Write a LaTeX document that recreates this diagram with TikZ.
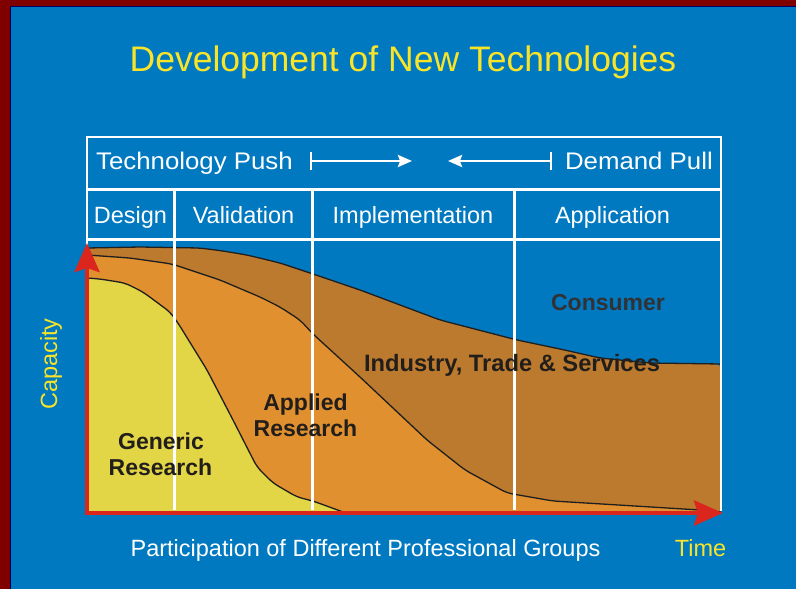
\documentclass[tikz,border=0pt]{standalone}
\usepackage{fontspec}
\setmainfont{Liberation Sans}
\usetikzlibrary{arrows.meta}
\definecolor{bgblue}{RGB}{0,121,193}
\definecolor{framered}{RGB}{128,0,0}
\definecolor{ttlyellow}{RGB}{250,228,40}
\definecolor{genyellow}{RGB}{226,213,70}
\definecolor{apporange}{RGB}{224,144,47}
\definecolor{indbrown}{RGB}{188,122,46}
\definecolor{axisred}{RGB}{218,38,28}
\definecolor{labeldark}{RGB}{34,30,28}
\definecolor{consdark}{RGB}{50,50,52}
\begin{document}
\begin{tikzpicture}[x=1pt,y=-1pt,
  txt/.style={inner sep=0pt, anchor=base, font=\fontsize{23.5}{27}\selectfont},
  head/.style={txt, text=white},
  wide/.style={txt, text=white, font=\fontsize{24}{27}\selectfont, xscale=1.075},
  area/.style={txt, font=\fontsize{23}{26}\selectfont\bfseries, text=labeldark},
  gridline/.style={white, line width=2.7pt},
  curve/.style={draw=black!88, line width=1.3pt, line join=round},
  axis/.style={axisred, line width=4.6pt, line join=miter,
    {Stealth[length=29pt,width=25pt,inset=4pt]}-{Stealth[length=29pt,width=25pt,inset=4pt]}},
  hdarrow/.style={white, line width=2.4pt,
    {Bar[width=18pt]}-{Stealth[length=14pt,width=12pt,inset=2pt]}}
]
\useasboundingbox (0,0) rectangle (796,589);
% background and frame
\fill[framered] (0,0) rectangle (796,589);
\fill[bgblue] (10,6) rectangle (796,589);
\draw[black!60!blue, line width=1pt] (10.5,589) -- (10.5,6.5) -- (796,6.5);

% areas
\fill[indbrown, rounded corners=6pt] (87,248) -- (140,247) -- (200,248) -- (223,251) -- (247,255) -- (280,263) -- (313,274) -- (360,290) -- (440,320) -- (517,340) -- (560,349) -- (600,358) -- (650,363) -- (721,364) -- (721,513) -- (87,513) -- cycle;
\fill[apporange, rounded corners=6pt] (87,255) -- (130,258) -- (172,264) -- (220,280) -- (260,297) -- (280,307) -- (300,320) -- (313,334) -- (360,377) -- (427,440) -- (465,470) -- (507,493) -- (553,501) -- (700,510) -- (721,512) -- (87,513) -- cycle;
\fill[genyellow, rounded corners=6pt] (87,278) -- (100,279) -- (125,283) -- (143,292) -- (170,312) -- (178,323) -- (207,370) -- (233,420) -- (257,467) -- (273,483) -- (297,497) -- (313,501) -- (343,512) -- (87,513) -- cycle;

% boundary curves
\draw[curve, rounded corners=6pt] (87,248) -- (140,247) -- (200,248) -- (223,251) -- (247,255) -- (280,263) -- (313,274) -- (360,290) -- (440,320) -- (517,340) -- (560,349) -- (600,358) -- (650,363) -- (721,364);
\draw[curve, rounded corners=6pt] (87,255) -- (130,258) -- (172,264) -- (220,280) -- (260,297) -- (280,307) -- (300,320) -- (313,334) -- (360,377) -- (427,440) -- (465,470) -- (507,493) -- (553,501) -- (700,510) -- (721,512);
\draw[curve, rounded corners=6pt] (87,278) -- (100,279) -- (125,283) -- (143,292) -- (170,312) -- (178,323) -- (207,370) -- (233,420) -- (257,467) -- (273,483) -- (297,497) -- (313,501) -- (343,512);

% table / grid lines
\coordinate (tl) at (87,137);
\coordinate (tr) at (721,137);
\coordinate (r1l) at (87,189.7);
\coordinate (r1r) at (721,189.7);
\coordinate (r2l) at (87,239.7);
\coordinate (r2r) at (721,239.7);
\coordinate (lb) at (87,245);
\coordinate (rb) at (721,511);
\draw[gridline] (lb) -- (tl) -- (tr) -- (rb);
\draw[gridline] (r1l) -- (r1r);
\draw[gridline] (r2l) -- (r2r);
\coordinate (v1t) at (174.7,189.7); \coordinate (v1b) at (174.7,510);
\coordinate (v2t) at (312.7,189.7); \coordinate (v2b) at (312.7,510);
\coordinate (v3t) at (514.3,189.7); \coordinate (v3b) at (514.3,510);
\draw[gridline] (v1t) -- (v1b);
\draw[gridline] (v2t) -- (v2b);
\draw[gridline] (v3t) -- (v3b);

% axes
\coordinate (ytip) at (87,243);
\coordinate (origin) at (87,513);
\coordinate (xtip) at (723,513);
\draw[axis] (ytip) -- (origin) -- (xtip);

% header arrows
\coordinate (pushS) at (310,161);
\coordinate (pushE) at (412,161);
\coordinate (pullS) at (552,161);
\coordinate (pullE) at (448,161);
\draw[hdarrow] (pushS) -- (pushE);
\draw[hdarrow] (pullS) -- (pullE);

% texts
\node[txt, text=ttlyellow, font=\fontsize{35.5}{40}\selectfont] (title) at (403,71) {Development of New Technologies};
\node[wide, anchor=base west] (push) at (96,169) {Technology Push};
\node[wide, anchor=base east] (pull) at (713,169) {Demand Pull};
\node[head] (design) at (130.5,223) {Design};
\node[head] (valid) at (243.5,223) {Validation};
\node[head] (impl) at (413,223) {Implementation};
\node[head] (appl) at (612.5,223) {Application};
\node[area, text=consdark] (consumer) at (608,310) {Consumer};
\node[area, font=\fontsize{23.7}{26}\selectfont\bfseries] (industry) at (512,371.5) {Industry, Trade \& Services};
\node[area] (applied1) at (305.5,410) {Applied};
\node[area] (applied2) at (305.5,436) {Research};
\node[area] (generic1) at (161,449) {Generic};
\node[area] (generic2) at (160.5,475) {Research};
\node[txt, text=ttlyellow, rotate=90] (capacity) at (57,364) {Capacity};
\node[txt, text=white] (particip) at (365.5,556.5) {Participation of Different Professional Groups};
\node[txt, text=ttlyellow] (time) at (700.5,556.5) {Time};
\end{tikzpicture}
\end{document}
